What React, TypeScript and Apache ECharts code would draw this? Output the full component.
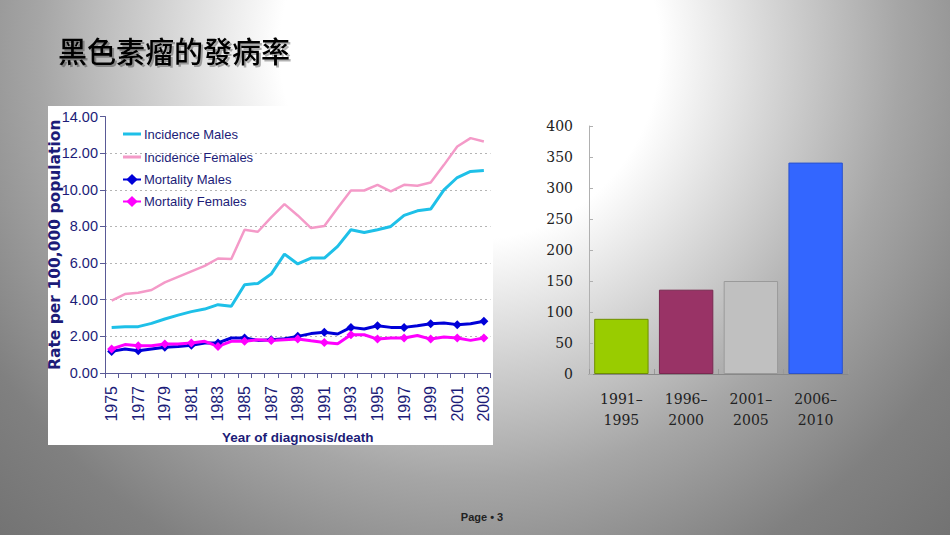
import React, { useEffect, useRef } from 'react';
import * as echarts from 'echarts';

// Melanoma rates per 100,000 population, 1975–2003
const years = [
  '1975', '1976', '1977', '1978', '1979', '1980', '1981', '1982', '1983', '1984',
  '1985', '1986', '1987', '1988', '1989', '1990', '1991', '1992', '1993', '1994',
  '1995', '1996', '1997', '1998', '1999', '2000', '2001', '2002', '2003',
];
const incidenceMales = [
  2.49, 2.53, 2.53, 2.71, 2.95, 3.16, 3.35, 3.49, 3.73, 3.64,
  4.82, 4.89, 5.4, 6.49, 5.95, 6.27, 6.27, 6.91, 7.82, 7.67,
  7.82, 8.0, 8.6, 8.85, 8.95, 10.0, 10.67, 11.0, 11.05,
];
const incidenceFemales = [
  3.95, 4.31, 4.38, 4.53, 4.95, 5.25, 5.55, 5.85, 6.25, 6.22,
  7.82, 7.71, 8.49, 9.22, 8.6, 7.91, 8.02, 9.0, 9.96, 9.96,
  10.27, 9.91, 10.27, 10.22, 10.4, 11.36, 12.36, 12.82, 12.64,
];
const mortalityMales = [
  1.18, 1.31, 1.22, 1.31, 1.4, 1.44, 1.51, 1.64, 1.64, 1.91,
  1.91, 1.78, 1.82, 1.87, 2.0, 2.15, 2.22, 2.13, 2.49, 2.4,
  2.58, 2.49, 2.49, 2.58, 2.69, 2.73, 2.64, 2.69, 2.82,
];
const mortalityFemales = [
  1.31, 1.55, 1.49, 1.49, 1.58, 1.58, 1.64, 1.73, 1.45, 1.73,
  1.73, 1.82, 1.78, 1.82, 1.86, 1.76, 1.67, 1.6, 2.09, 2.09,
  1.85, 1.91, 1.91, 2.05, 1.85, 1.96, 1.91, 1.78, 1.91,
];
const seriesNames = ['Incidence Males', 'Incidence Females', 'Mortality Males', 'Mortality Females'];

// Case counts by five-year period
const periods = ['1991–\n1995', '1996–\n2000', '2001–\n2005', '2006–\n2010'];
const periodCounts = [89, 136, 150, 341];
const barColors = ['#99cc00', '#993366', '#c0c0c0', '#3366ff'];
const barBorders = ['#6f8f00', '#7a2850', '#9a9a9a', '#2a52cc'];

const NAVY = '#1c1c78';
const SANS = '"Liberation Sans", Arial, sans-serif';
const SERIF = '"DejaVu Serif", "Liberation Serif", serif';

// plain line legend icon (tiny specks keep the box 18x14 so the bar stays thin)
const LINE_ICON = 'path://M0,5.6H18V8.4H0Z M0,0H0.01V0.01H0Z M0,14H0.01V14.01H0Z';

export default function App() {
  const ref = useRef<HTMLDivElement>(null);

  useEffect(() => {
    const chart = echarts.init(ref.current!, null, { renderer: 'svg' });
    chart.setOption({
      animation: false,
      graphic: [
        {
          type: 'rect',
          z: -1,
          shape: { x: 48, y: 106, width: 445, height: 339 },
          style: { fill: '#ffffff' },
        },
        {
          type: 'text',
          x: 58,
          y: 50,
          style: {
            text: '黑色素瘤的發病率',
            fill: '#000',
            font: '500 29px "Noto Sans CJK TC", sans-serif',
            textVerticalAlign: 'middle',
            textShadowColor: 'rgba(0,0,0,0.3)',
            textShadowOffsetX: 2,
            textShadowOffsetY: 2,
            textShadowBlur: 1,
          },
        },
        {
          type: 'text',
          x: 482,
          y: 517,
          style: {
            text: 'Page • 3',
            fill: '#222',
            font: 'bold 11px ' + SANS,
            textAlign: 'center',
            textVerticalAlign: 'middle',
          },
        },
      ],
      legend: {
        data: [
          { name: seriesNames[0], icon: LINE_ICON },
          { name: seriesNames[1], icon: LINE_ICON },
          { name: seriesNames[2] },
          { name: seriesNames[3] },
        ],
        orient: 'vertical',
        left: 117,
        top: 122,
        itemGap: 9,
        itemWidth: 18,
        itemHeight: 14,
        textStyle: { color: NAVY, fontSize: 13, fontFamily: SANS, padding: [0, 0, 0, -2] },
      },
      grid: [
        { left: 105, top: 116.5, width: 385.5, height: 256.5 },
        { left: 589, top: 126, width: 259, height: 248 },
      ],
      xAxis: [
        {
          gridIndex: 0,
          type: 'category',
          data: years,
          boundaryGap: true,
          name: 'Year of diagnosis/death',
          nameLocation: 'middle',
          nameGap: 57,
          nameMoveOverlap: false,
          nameTextStyle: { color: NAVY, fontSize: 13.5, fontWeight: 'bold', fontFamily: SANS },
          axisLine: { lineStyle: { color: '#5a5a96', width: 1 } },
          axisTick: { show: true, interval: 0, length: 5, lineStyle: { color: '#5a5a96' } },
          axisLabel: {
            interval: 1,
            rotate: 90,
            margin: 13,
            color: NAVY,
            fontSize: 16,
            fontFamily: SANS,
          },
          splitLine: { show: false },
        },
        {
          gridIndex: 1,
          type: 'category',
          data: periods,
          axisLine: { lineStyle: { color: '#888', width: 1 } },
          axisTick: { show: true, inside: true, length: 5, lineStyle: { color: '#999' } },
          axisLabel: {
            color: '#222',
            fontSize: 14,
            fontFamily: SERIF,
            lineHeight: 21,
            margin: 14,
          },
        },
      ],
      yAxis: [
        {
          gridIndex: 0,
          type: 'value',
          min: 0,
          max: 14,
          interval: 2,
          name: 'Rate per 100,000 population',
          nameLocation: 'middle',
          nameGap: 42,
          nameMoveOverlap: false,
          nameTextStyle: { color: NAVY, fontSize: 15.5, fontWeight: 'bold', fontFamily: '"DejaVu Sans", sans-serif' },
          axisLine: { show: true, lineStyle: { color: '#5a5a96', width: 1 } },
          axisTick: { show: true, length: 5, lineStyle: { color: '#5a5a96' } },
          axisLabel: {
            color: NAVY,
            fontSize: 14.5,
            fontFamily: SANS,
            margin: 7,
            formatter: (v: number) => v.toFixed(2),
          },
          splitLine: {
            show: true,
            showMaxLine: false,
            lineStyle: { color: '#b4b4b4', type: [2, 3], width: 1 },
          },
        },
        {
          gridIndex: 1,
          type: 'value',
          min: 0,
          max: 400,
          interval: 50,
          axisLine: { show: true, lineStyle: { color: '#b0b0b0', width: 1 } },
          axisTick: { show: true, inside: true, length: 4, lineStyle: { color: '#b0b0b0' } },
          axisLabel: { color: '#222', fontSize: 14, fontFamily: SERIF, margin: 16 },
          splitLine: { show: false },
        },
      ],
      series: [
        {
          name: seriesNames[0],
          type: 'line',
          xAxisIndex: 0,
          yAxisIndex: 0,
          data: incidenceMales,
          symbol: 'none',
          lineStyle: { color: '#1ec0e8', width: 3 },
          itemStyle: { color: '#1ec0e8' },
        },
        {
          name: seriesNames[1],
          type: 'line',
          xAxisIndex: 0,
          yAxisIndex: 0,
          data: incidenceFemales,
          symbol: 'none',
          lineStyle: { color: '#f49ac8', width: 2.5 },
          itemStyle: { color: '#f49ac8' },
        },
        {
          name: seriesNames[2],
          type: 'line',
          xAxisIndex: 0,
          yAxisIndex: 0,
          data: mortalityMales,
          symbol: 'diamond',
          symbolSize: 9,
          lineStyle: { color: '#0000d8', width: 3 },
          itemStyle: { color: '#0000d8' },
        },
        {
          name: seriesNames[3],
          type: 'line',
          xAxisIndex: 0,
          yAxisIndex: 0,
          data: mortalityFemales,
          symbol: 'diamond',
          symbolSize: 9,
          lineStyle: { color: '#ff00ff', width: 3 },
          itemStyle: { color: '#ff00ff' },
        },
        {
          type: 'bar',
          xAxisIndex: 1,
          yAxisIndex: 1,
          barCategoryGap: '16%',
          data: periodCounts.map((v, i) => ({
            value: v,
            itemStyle: { color: barColors[i], borderColor: barBorders[i], borderWidth: 1 },
          })),
        },
      ],
    });
    return () => chart.dispose();
  }, []);

  return (
    <div
      style={{
        position: 'absolute',
        left: 0,
        top: 0,
        width: 950,
        height: 535,
        overflow: 'hidden',
        background:
          'radial-gradient(circle at 470px 50px, #ffffff 0px, #ffffff 190px, #d6d6d6 300px, #a6a6a6 430px, #808080 570px, #6e6e6e 720px)',
      }}
    >
      <div ref={ref} style={{ width: 950, height: 535 }} />
    </div>
  );
}
